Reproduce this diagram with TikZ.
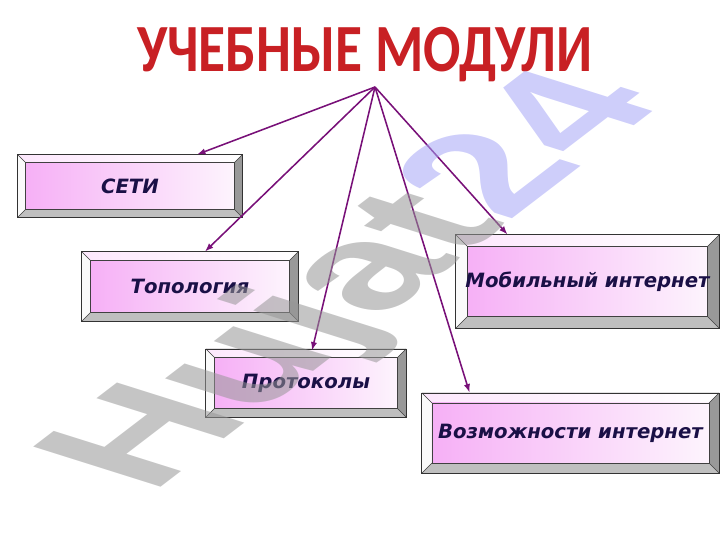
\documentclass[tikz,border=0pt]{standalone}
\usepackage{fontspec}
\setmainfont{DejaVu Sans}
\newfontfamily\titlefont{Carlito}
\newfontfamily\markfont{Liberation Sans}
\usetikzlibrary{arrows.meta}
\definecolor{titlered}{RGB}{200,32,36}
\definecolor{textnavy}{RGB}{26,16,70}
\definecolor{linkpurple}{RGB}{120,16,120}
\definecolor{facepink}{RGB}{246,176,246}
\definecolor{facewhite}{RGB}{253,244,253}
\definecolor{wmgray}{RGB}{150,150,150}
\definecolor{wmlav}{RGB}{165,165,245}
\newcommand{\bevelfill}[1]{%
  \coordinate (bnw) at (path picture bounding box.north west);
  \coordinate (bne) at (path picture bounding box.north east);
  \coordinate (bsw) at (path picture bounding box.south west);
  \coordinate (bse) at (path picture bounding box.south east);
  \coordinate (inw) at ([shift={(#1,-#1)}]bnw);
  \coordinate (ine) at ([shift={(-#1,-#1)}]bne);
  \coordinate (isw) at ([shift={(#1,#1)}]bsw);
  \coordinate (ise) at ([shift={(-#1,#1)}]bse);
  \fill[left color=facepink!30, right color=white] (bnw) -- (bne) -- (ine) -- (inw) -- cycle;
  \fill[white!96!gray] (bnw) -- (inw) -- (isw) -- (bsw) -- cycle;
  \fill[black!25] (bsw) -- (isw) -- (ise) -- (bse) -- cycle;
  \fill[black!40] (bse) -- (ise) -- (ine) -- (bne) -- cycle;
  \shade[shading=axis, shading angle=80, left color=facepink, right color=facewhite] (inw) rectangle (ise);
  \draw[black!75, line width=0.5pt] (inw) rectangle (ise);
  \draw[black!75, line width=0.4pt] (bnw) -- (inw) (bne) -- (ine) (bsw) -- (isw) (bse) -- (ise);
}
\tikzset{
  modbox/.style={draw=black!80, line width=0.7pt, text=textnavy,
    font=\fontsize{14}{16}\selectfont\bfseries\itshape,
    path picture={\bevelfill{#1}}},
  modbox/.default=0.2cm,
  link/.style={-{Latex[length=6pt,width=4.5pt]}, linkpurple, line width=1.1pt}
}
\begin{document}
\begin{tikzpicture}[x=0.025cm, y=0.025cm]
	\useasboundingbox (0,0) rectangle (720,540);
	\node[font=\titlefont\fontsize{48}{50}\selectfont\bfseries, text=titlered] (title) at (365,485) {\scalebox{0.82}[1]{УЧЕБНЫЕ МОДУЛИ}};
	\coordinate (apex) at (375,453);
	\node[modbox=0.19cm, minimum width=5.6cm, minimum height=1.55cm] (seti) at (130,354) {СЕТИ};
	\node[modbox=0.215cm, minimum width=5.4cm, minimum height=1.725cm] (topo) at (190,253.5) {Топология};
	\node[modbox=0.21cm, minimum width=5cm, minimum height=1.7cm] (proto) at (306,157) {Протоколы};
	\node[modbox=0.29cm, minimum width=6.575cm, minimum height=2.325cm] (mobile) at (587.5,258.5) {Мобильный интернет};
	\node[modbox=0.25cm, minimum width=7.425cm, minimum height=2cm] (vozm) at (570.5,107) {Возможности интернет};
	\draw[link] (apex) -- ([xshift=1.675cm]seti.north);
	\draw[link] (apex) -- ([xshift=0.375cm]topo.north);
	\draw[link] (apex) -- ([xshift=0.15cm,yshift=-0.05cm]proto.north);
	\draw[link] (apex) -- ([xshift=-2cm]mobile.north);
	\draw[link] (apex) -- ([xshift=-2.525cm]vozm.north);
	% watermark
	\begin{scope}[shift={(409,242)}]
		\node[cm={0.762,0.583,-0.99,0.312,(0,0)}, transform shape, anchor=base, inner sep=0pt, text opacity=0.55,
			font=\markfont\fontsize{133}{133}\selectfont\bfseries] (mark) at (0,0) {\textcolor{wmgray}{Hujat}\textcolor{wmlav}{24}};
	\end{scope}
\end{tikzpicture}
\end{document}
